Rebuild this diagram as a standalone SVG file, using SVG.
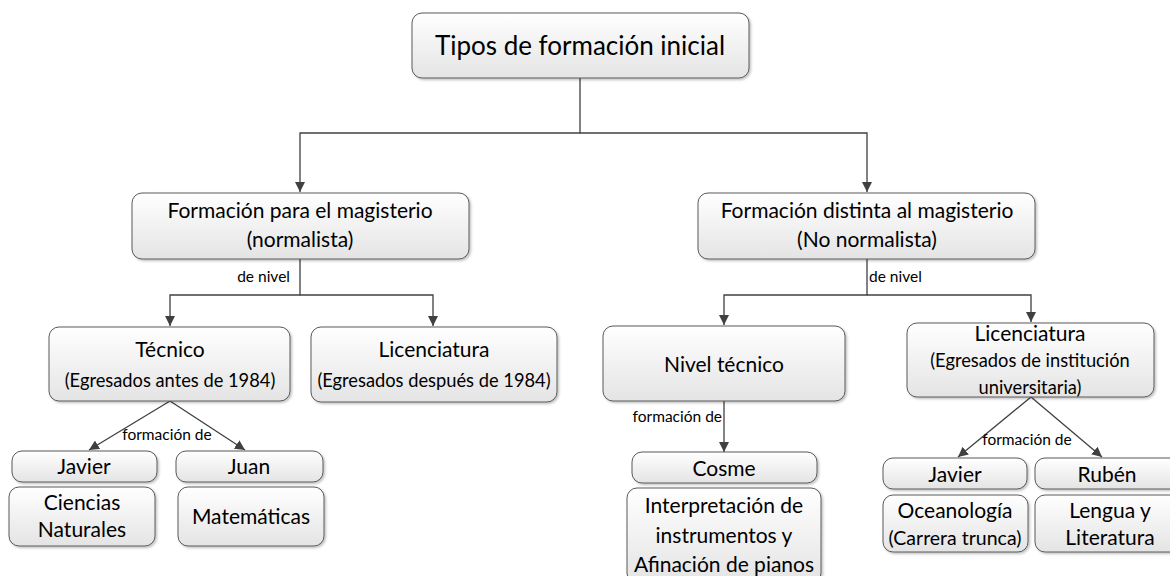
<svg xmlns="http://www.w3.org/2000/svg" width="1170" height="576" viewBox="0 0 1170 576">
<defs>
<linearGradient id="g" x1="0" y1="0" x2="0" y2="1">
<stop offset="0" stop-color="#ffffff"/>
<stop offset="1" stop-color="#e4e4e4"/>
</linearGradient>
<filter id="sh" x="-5%" y="-5%" width="115%" height="125%">
<feDropShadow dx="1.5" dy="1.5" stdDeviation="1.2" flood-color="#000" flood-opacity="0.25"/>
</filter>
<marker id="ar" viewBox="0 0 10 10" refX="10" refY="5" markerWidth="10" markerHeight="10" markerUnits="userSpaceOnUse" orient="auto">
<path d="M0,0 L10,5 L0,10 z" fill="#404040"/>
</marker>
<style>
.box{fill:url(#g);stroke:#5a5a5a;stroke-width:1;filter:url(#sh)}
.t{font-family:Lato,"Liberation Sans",sans-serif;fill:#000;text-anchor:middle}
.m{font-size:21px}
.s{font-size:18.3px}
.l{font-family:Lato,"Liberation Sans",sans-serif;font-size:15.5px;fill:#000}
.c{fill:none;stroke:#404040;stroke-width:1.3}
</style>
</defs>
<rect width="1170" height="576" fill="#fff"/>
<g id="connectors">
<path class="c" d="M580,78 V133 H300 V192" marker-end="url(#ar)"/>
<path class="c" d="M580,133 H867 V192" marker-end="url(#ar)"/>
<path class="c" d="M300,259 V295 H170 V326" marker-end="url(#ar)"/>
<path class="c" d="M300,295 H433 V326" marker-end="url(#ar)"/>
<path class="c" d="M867,259 V295 H724 V325" marker-end="url(#ar)"/>
<path class="c" d="M867,295 H1031 V322" marker-end="url(#ar)"/>
<path class="c" d="M170,401 L89,450" marker-end="url(#ar)"/>
<path class="c" d="M170,401 L245,450" marker-end="url(#ar)"/>
<path class="c" d="M724,401 V452" marker-end="url(#ar)"/>
<path class="c" d="M1031,397 L958,457" marker-end="url(#ar)"/>
<path class="c" d="M1031,397 L1102,457" marker-end="url(#ar)"/>
<text class="l" x="290" y="282" text-anchor="end">de nivel</text>
<text class="l" x="869" y="282">de nivel</text>
<text class="l" x="167" y="440" text-anchor="middle">formación de</text>
<text class="l" x="722" y="422" text-anchor="end">formación de</text>
<text class="l" x="1027" y="445" text-anchor="middle">formación de</text>
</g>
<g id="n-root">
<rect class="box" x="412" y="13" width="337" height="65" rx="10"/>
<text class="t" x="580" y="55" font-size="26">Tipos de formación inicial</text>
</g>
<g id="n-normalista">
<rect class="box" x="132" y="193" width="337" height="66" rx="10"/>
<text class="t m" x="300" y="218">Formación para el magisterio</text>
<text class="t m" x="300" y="247">(normalista)</text>
</g>
<g id="n-nonormalista">
<rect class="box" x="698" y="193" width="337" height="66" rx="10"/>
<text class="t m" x="867" y="218">Formación distinta al magisterio</text>
<text class="t m" x="867" y="247">(No normalista)</text>
</g>
<g id="n-tecnico">
<rect class="box" x="49" y="327" width="241" height="74" rx="10"/>
<text class="t m" x="170" y="357">Técnico</text>
<text class="t s" x="170" y="387">(Egresados antes de 1984)</text>
</g>
<g id="n-lic1">
<rect class="box" x="311" y="327" width="246" height="75" rx="10"/>
<text class="t m" x="434" y="357">Licenciatura</text>
<text class="t s" x="434" y="387">(Egresados después de 1984)</text>
</g>
<g id="n-niveltecnico">
<rect class="box" x="603" y="326" width="242" height="75" rx="10"/>
<text class="t m" x="724" y="372">Nivel técnico</text>
</g>
<g id="n-lic2">
<rect class="box" x="907" y="323" width="247" height="74" rx="10"/>
<text class="t m" x="1030" y="341">Licenciatura</text>
<text class="t s" x="1030" y="367">(Egresados de institución</text>
<text class="t s" x="1030" y="394">universitaria)</text>
</g>
<g id="n-javier1">
<rect class="box" x="12" y="451" width="145" height="31" rx="10"/>
<text class="t m" x="84" y="474">Javier</text>
</g>
<g id="n-juan">
<rect class="box" x="176" y="451" width="147" height="31" rx="10"/>
<text class="t m" x="249" y="474">Juan</text>
</g>
<g id="n-ciencias">
<rect class="box" x="9" y="487" width="146" height="59" rx="10"/>
<text class="t m" x="82" y="510">Ciencias</text>
<text class="t m" x="82" y="537">Naturales</text>
</g>
<g id="n-matematicas">
<rect class="box" x="178" y="487" width="146" height="59" rx="10"/>
<text class="t m" x="251" y="524">Matemáticas</text>
</g>
<g id="n-cosme">
<rect class="box" x="632" y="452" width="185" height="31" rx="10"/>
<text class="t m" x="724" y="476">Cosme</text>
</g>
<g id="n-interpretacion">
<rect class="box" x="627" y="488" width="194" height="95" rx="10"/>
<text class="t m" x="724" y="513">Interpretación de</text>
<text class="t m" x="724" y="543">instrumentos y</text>
<text class="t m" x="724" y="572">Afinación de pianos</text>
</g>
<g id="n-javier2">
<rect class="box" x="883" y="458" width="144" height="31" rx="10"/>
<text class="t m" x="955" y="482">Javier</text>
</g>
<g id="n-ruben">
<rect class="box" x="1035" y="458" width="145" height="31" rx="10"/>
<text class="t m" x="1107" y="482">Rubén</text>
</g>
<g id="n-oceanologia">
<rect class="box" x="883" y="495" width="145" height="57" rx="10"/>
<text class="t m" x="955" y="518">Oceanología</text>
<text class="t" x="955" y="545" font-size="19.5">(Carrera trunca)</text>
</g>
<g id="n-lengua">
<rect class="box" x="1035" y="495" width="145" height="57" rx="10"/>
<text class="t m" x="1110" y="518">Lengua y</text>
<text class="t m" x="1110" y="545">Literatura</text>
</g>
</svg>
